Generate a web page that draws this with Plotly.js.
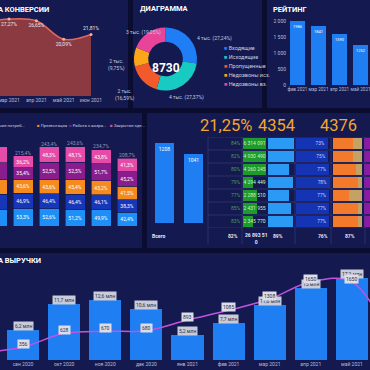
<!DOCTYPE html>
<html><head><meta charset="utf-8">
<script src="https://cdn.plot.ly/plotly-3.0.1.min.js"></script>
<style>html,body{margin:0;padding:0;background:#0a0d30;}#chart{width:370px;height:370px;}</style>
</head><body><div id="chart"></div>
<script>
// ---------------- data ----------------
const convMonths = ['фев 2021','мар 2021','апр 2021','май 2021','июн 2021'];
const convRates = [26.0, 27.27, 26.65, 20.09, 21.81];

const donutLabels = ['Входящие','Исходящие','Пропущенные','Недозвоны исх.','Недозвоны вх.'];
const donutValues = [2378, 2389, 1448, 851, 1663];
const donutText = ['4 тыс. (27,24%)','4 тыс. (27,37%)','2 тыс.<br>(16,59%)','2 тыс.<br>(9,75%)','3 тыс. (19,05%)'];
const donutTotal = '8730';

const ratingMonths = ['фев 2021','мар 2021','апр 2021','май 2021'];
const ratingValues = [1986, 1841, 1590, 1252];

const funnelMonths = ['ноя 2020','дек 2020','янв 2021','фев 2021','мар 2021','апр 2021'];
const stageNames = ['Установление контакта','Выявление потреб...','Презентация','Работа с возра...','Закрытие сде...'];
const stageContact = [51.5, 53.3, 52.6, 51.2, 49.9, 42.4];
const stageNeeds   = [46.2, 46.9, 46.4, 46.4, 46.1, 38.3];
const stagePresent = [45.1, 43.6, 43.6, 45.4, 43.2, 41.5];
const stageObject  = [52.0, 35.4, 52.5, 52.5, 51.7, 45.2];
const stageClose   = [48.6, 36.2, 48.3, 48.1, 43.8, 41.3];

const kpiValues = ['21,25%', '4354', '4376'];
const leftBars = [1208, 1041];

const tablePct = [84, 82, 80, 79, 77, 85, 83];
const tableSales = [6314091, 4930490, 4260245, 4294449, 2288510, 2431955, 2345770];
const tableGreenFill = [100, 100, 100, 45, 60, 62, 45];
const tableBlueFill = [100, 100, 80, 95, 82, 90, 95];
const tableDarkPct = [73, 75, 77, 78, 77, 77, 77];
const tableOrangeFill = [68, 68, 80, 85, 55, 85, 85];
const tablePurpleFill = [100, 100, 100, 100, 100, 100, 100];
const totalRow = ['Всего', '82%', '26 893 51<br>0', '89%', '76%', '87%'];

const revMonths = ['авг 2020','сен 2020','окт 2020','ноя 2020','дек 2020','янв 2021','фев 2021','мар 2021','апр 2021','май 2021','июн 2021'];
const revBars = [5.0, 6.2, 11.7, 12.6, 10.6, 5.2, 7.7, 11.6, 15.0, 17.2, 9.0];
const revLine = [250, 356, 628, 670, 680, 893, 1085, 1308, 1650, 1650, 400];

// ---------------- helpers ----------------
const W = 370, H = 370;
const X = p => p / W;
const Y = p => 1 - p / H;
const xd = (a, b) => [X(a), Math.min(1, X(b))];
const yd = (t, b) => [Y(b), Y(t)];
const FONT = 'Roboto, "Open Sans", sans-serif';
const TXT = '#b9bdd9';
const ax = o => Object.assign({showgrid:false, zeroline:false, showline:false, ticks:'',
  tickfont:{size:5, color:TXT, family:FONT}, fixedrange:true}, o);
const fmtMln = v => (Number.isInteger(v) ? String(v) : v.toFixed(1).replace('.', ',')) + ' млн';
const fmtThousands = v => String(v).replace(/\B(?=(\d{3})+(?!\d))/g, ' ');

const donutColors = ['#1f7ef5','#17cbc2','#f25a2c','#f9a61a','#e8459a'];
const stageColors = ['#1e8ff7','#1836b8','#f58a1f','#8a1d8e','#e54caa'];
const stageData = [stageContact, stageNeeds, stagePresent, stageObject, stageClose];
const rowIdx = tableSales.map((_, i) => i);

const traces = [];

// P1 conversion area
traces.push({type:'scatter', x:convMonths, y:convRates, xaxis:'x', yaxis:'y',
  mode:'lines+markers+text', fill:'tozeroy', fillcolor:'#8a3a40',
  line:{color:'#e0685e', width:1.5, shape:'spline'}, marker:{size:3, color:'#f2b0a4'},
  texttemplate:'%{y:.2f}%', textposition:['bottom center','bottom center','bottom center','bottom center','top center'],
  textfont:{size:5, color:'#e6e6f0', family:FONT}, cliponaxis:false, hoverinfo:'skip'});

// P2 donut
const DCX = 165.5, DCY = 59;
traces.push({type:'pie', labels:donutLabels, values:donutValues, hole:0.55, sort:false,
  direction:'clockwise', rotation:0, marker:{colors:donutColors, line:{width:0}},
  textinfo:'none', domain:{x:xd(134,197), y:yd(27,91)}, showlegend:false, hoverinfo:'skip'});

// P3 rating
traces.push({type:'bar', x:ratingMonths, y:ratingValues, xaxis:'x2', yaxis:'y2', width:0.72,
  marker:{color:'#1e7ef2'}, text:ratingValues.map(String), textposition:'inside', insidetextanchor:'end',
  textangle:0, textfont:{size:5, color:'#ffffff', family:FONT}, hoverinfo:'skip'});

// P4 stacked funnel stages
stageData.forEach((arr, k) => traces.push({type:'bar', name:stageNames[k], x:funnelMonths, y:arr,
  xaxis:'x3', yaxis:'y3', width:0.77, marker:{color:stageColors[k], line:{color:'#141a4f', width:0.6}},
  texttemplate:'%{y:.1f}%', textposition:'inside', insidetextanchor:'middle', textangle:0,
  constraintext:'none', textfont:{size:5, color:'#ffffff', family:FONT}, hoverinfo:'skip'}));
const stageSums = funnelMonths.map((_, i) => stageData.reduce((s, a) => s + a[i], 0));
traces.push({type:'scatter', mode:'text', x:funnelMonths, y:stageSums, xaxis:'x3', yaxis:'y3',
  texttemplate:'%{y:.1f}%', textposition:'top center', cliponaxis:false,
  textfont:{size:5, color:'#8f95c2', family:FONT}, hoverinfo:'skip'});

// P5 left bars
traces.push({type:'bar', x:leftBars.map((_, i) => i), y:leftBars, xaxis:'x4', yaxis:'y4', width:0.66,
  marker:{color:'#1e7ef2'}, text:leftBars.map(String), textposition:'inside', insidetextanchor:'end',
  textangle:0, textfont:{size:5, color:'#ffffff', family:FONT}, hoverinfo:'skip'});

// P5 table columns
traces.push({type:'scatter', mode:'text', x:rowIdx.map(() => 0.95), y:rowIdx, xaxis:'x5', yaxis:'y5',
  text:tablePct.map(v => v + '%'), textposition:'middle left', cliponaxis:false,
  textfont:{size:5, color:'#4f9a5a', family:FONT}, hoverinfo:'skip'});
traces.push({type:'bar', orientation:'h', x:tableGreenFill, y:rowIdx, xaxis:'x6', yaxis:'y5', width:0.8,
  marker:{color:'#1f9a2c'}, hoverinfo:'skip'});
traces.push({type:'scatter', mode:'text', x:rowIdx.map(() => 50), y:rowIdx, xaxis:'x6', yaxis:'y5',
  text:tableSales.map(fmtThousands), textposition:'middle center', cliponaxis:false,
  textfont:{size:5, color:'#c8f5c8', family:FONT}, hoverinfo:'skip'});
traces.push({type:'bar', orientation:'h', x:tableBlueFill, y:rowIdx, xaxis:'x7', yaxis:'y5', width:0.8,
  marker:{color:'#2a9af5'}, hoverinfo:'skip'});
traces.push({type:'bar', orientation:'h', x:tableDarkPct, y:rowIdx, xaxis:'x8', yaxis:'y5', width:0.9,
  marker:{color:'#1434b4'}, text:tableDarkPct.map(v => v + '%'), textposition:'inside',
  insidetextanchor:'end', textangle:0, textfont:{size:5, color:'#c9d0ff', family:FONT}, hoverinfo:'skip'});
traces.push({type:'bar', orientation:'h', x:tableOrangeFill, y:rowIdx, xaxis:'x9', yaxis:'y5', width:0.8,
  marker:{color:'#f47a2b'}, hoverinfo:'skip'});
traces.push({type:'bar', orientation:'h', x:tableOrangeFill.map(v => 100 - v), y:rowIdx, xaxis:'x9', yaxis:'y5', width:0.8,
  marker:{color:'#c4a264'}, hoverinfo:'skip'});
traces.push({type:'bar', orientation:'h', x:tablePurpleFill, y:rowIdx, xaxis:'x10', yaxis:'y5', width:0.8,
  marker:{color:'#8d1aa5'}, hoverinfo:'skip'});

// P6 revenue
traces.push({type:'bar', x:revMonths, y:revBars, xaxis:'x11', yaxis:'y11', width:0.78,
  marker:{color:'#1e7ef2'}, hoverinfo:'skip'});
traces.push({type:'scatter', mode:'lines', x:revMonths, y:revLine, xaxis:'x11', yaxis:'y12',
  line:{color:'#c452e0', width:1.5, shape:'spline'}, hoverinfo:'skip'});

// ---------------- annotations ----------------
const ann = [];
const title = (t, xp, yp, anchor) => ann.push({text:'<b>' + t + '</b>', x:X(xp), y:Y(yp), xref:'paper', yref:'paper',
  xanchor:anchor, yanchor:'middle', showarrow:false, font:{size:7.5, color:'#ffffff', family:FONT}});
title('ДИНАМИКА КОНВЕРСИИ', 51, 10, 'right');
title('ДИАГРАММА', 138, 9, 'left');
title('РЕЙТИНГ', 271, 10, 'left');
title('ДИНАМИКА ВЫРУЧКИ', 43, 260, 'right');

ann.push({text:'<b>' + donutTotal + '</b>', x:X(DCX), y:Y(DCY), xref:'paper', yref:'paper', showarrow:false,
  font:{size:12, color:'#ffffff', family:FONT}});
// donut slice labels placed by slice mid-angle
const dTotal = donutValues.reduce((a, b) => a + b, 0);
let cum = 0;
donutValues.forEach((v, i) => {
  const mid = (cum + v / 2) / dTotal * 2 * Math.PI; cum += v;
  const s = Math.sin(mid), c = Math.cos(mid), R = 39;
  ann.push({text:donutText[i], x:X(DCX + R * s), y:Y(DCY - R * c), xref:'paper', yref:'paper', showarrow:false,
    xanchor: Math.abs(s) < 0.6 ? 'center' : (s > 0 ? 'left' : 'right'),
    font:{size:5, color:'#c4c8e0', family:FONT}});
});
donutLabels.forEach((l, i) => ann.push({text:'<span style="color:' + donutColors[i] + '">■</span> ' + l,
  x:X(222), y:Y(43 + 9 * i), xref:'paper', yref:'paper', xanchor:'left', showarrow:false,
  font:{size:5.5, color:'#c8cce2', family:FONT}}));

// P4 legend (horizontal)
const legX = [-22, 35, 67, 108];
[1, 2, 3, 4].forEach((k, j) => ann.push({text:'<span style="color:' + stageColors[k] + '">■</span> ' + stageNames[k],
  x:X(legX[j]), y:Y(121), xref:'paper', yref:'paper', xanchor:'left', showarrow:false,
  font:{size:4.3, color:'#c8cce2', family:FONT}}));

// KPI
const kpiX = [226, 297, 359];
kpiValues.forEach((v, i) => ann.push({text:v, x:X(kpiX[i]), y:Y(125), xref:'paper', yref:'paper', showarrow:false,
  font:{size:16.5, color:'#f4a431', family:FONT}}));

// totals row
const totX = [150, 240, 256, 285, 330, 357];
totalRow.forEach((t, i) => ann.push({text:'<b>' + t + '</b>', x:X(totX[i]), y:Y(i === 2 ? 238 : 236), xref:'paper', yref:'paper',
  xanchor:i === 0 ? 'left' : (i === 2 ? 'center' : 'right'), showarrow:false,
  font:{size:5, color:'#e4e6f4', family:FONT}}));

// revenue labels
revMonths.forEach((m, i) => {
  ann.push({text:fmtMln(revBars[i]), x:m, y:revBars[i], xref:'x11', yref:'y11', yshift:4, showarrow:false,
    bgcolor:'#c9cbd8', borderpad:1, font:{size:5, color:'#2a2d45', family:FONT}});
  ann.push({text:String(revLine[i]), x:m, y:revLine[i], xref:'x11', yref:'y12', yshift:3, showarrow:false,
    bgcolor:'#dcdde8', borderpad:1, font:{size:5, color:'#2a2d45', family:FONT}});
});

// ---------------- shapes (panels & grid) ----------------
const PANEL = '#141a4f';
const panel = (x0, y0, x1, y1, c) => ({type:'rect', xref:'paper', yref:'paper', x0:X(x0), x1:X(x1), y0:Y(y1), y1:Y(y0),
  fillcolor:c || PANEL, line:{width:0}, layer:'below'});
const shapes = [
  panel(-5, -5, 128, 108), panel(133, -5, 262, 108), panel(267, -5, 375, 108),
  panel(-5, 113, 142, 248), panel(147, 113, 375, 248), panel(-5, 253, 375, 375)
];
for (let i = 0; i <= 7; i++) shapes.push({type:'line', xref:'paper', yref:'y5', x0:X(208), x1:1,
  y0:i - 0.5, y1:i - 0.5, line:{color:'#39407e', width:0.6}, layer:'above'});
[208, 242, 295, 331, 365].forEach(p => shapes.push({type:'line', xref:'paper', yref:'paper', x0:X(p), x1:X(p),
  y0:Y(244), y1:Y(137), line:{color:'#39407e', width:0.6}}));

const layout = {
  width:W, height:H, margin:{l:0, r:0, t:0, b:0, autoexpand:false},
  paper_bgcolor:'#0a0d30', plot_bgcolor:'rgba(0,0,0,0)', separators:', ',
  showlegend:false, barmode:'stack', font:{family:FONT, color:TXT},
  xaxis: ax({domain:xd(0,91), range:[0.67,4.0], anchor:'y', type:'category', tickangle:0}),
  yaxis: ax({domain:yd(4,96), range:[0,32.6], anchor:'x', showticklabels:false}),
  xaxis2: ax({domain:xd(287,370), range:[-0.5,3.45], anchor:'y2', type:'category', tickangle:0, tickfont:{size:4.6, color:TXT, family:FONT}}),
  yaxis2: ax({domain:yd(14,85), range:[0,2219], anchor:'x2', tickvals:[0,500,1000,1500,2000], tickformat:',d'}),
  xaxis3: ax({domain:xd(0,142), range:[0.115,5.575], anchor:'y3', type:'category', showticklabels:false}),
  yaxis3: ax({domain:yd(128,226), range:[0,301], anchor:'x3', showticklabels:false}),
  xaxis4: ax({domain:xd(150,208), range:[-0.5,1.5], anchor:'y4', showticklabels:false}),
  yaxis4: ax({domain:yd(137,223), range:[0,1298], anchor:'x4', showticklabels:false}),
  yaxis5: ax({domain:yd(137,228), range:[6.5,-0.5], anchor:'x5', showticklabels:false}),
  xaxis5: ax({domain:xd(208,242), range:[0,1], anchor:'y5', showticklabels:false}),
  xaxis6: ax({domain:xd(243,266), range:[0,100], anchor:'y5', showticklabels:false}),
  xaxis7: ax({domain:xd(268,294), range:[0,100], anchor:'y5', showticklabels:false}),
  xaxis8: ax({domain:xd(296,330), range:[0,78.5], anchor:'y5', showticklabels:false}),
  xaxis9: ax({domain:xd(333,362), range:[0,100], anchor:'y5', showticklabels:false}),
  xaxis10: ax({domain:xd(364,370), range:[0,17], anchor:'y5', showticklabels:false}),
  xaxis11: ax({domain:xd(0,370), range:[0.44,9.44], anchor:'y11', type:'category', tickangle:0}),
  yaxis11: ax({domain:yd(265,360), range:[0,19.9], anchor:'x11', showticklabels:false}),
  yaxis12: ax({overlaying:'y11', range:[99,1984], anchor:'x11', side:'right', showticklabels:false}),
  annotations: ann, shapes: shapes
};
Plotly.newPlot('chart', traces, layout, {staticPlot:true, displayModeBar:false});
</script></body></html>
